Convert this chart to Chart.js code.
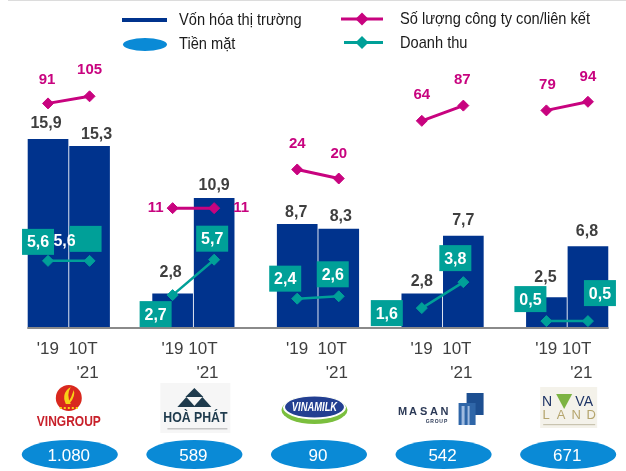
<!DOCTYPE html>
<html lang="vi">
<head>
<meta charset="utf-8">
<title>Vốn hóa thị trường</title>
<script src="https://cdn.jsdelivr.net/npm/chart.js@4.4.0/dist/chart.umd.min.js"></script>
<style>
  html, body { margin: 0; padding: 0; background: #fff; overflow: hidden; }
  #chart { display: block; }
</style>
</head>
<body>
<canvas id="chart" width="626" height="471"></canvas>
<script>
// --- Data ---
const companies = ['Vingroup', 'Hòa Phát', 'Vinamilk', 'Masan', 'Novaland'];
const periodLines = ["'19", "10T", "'21"]; // "'19  10T" / "'21"
const marketCap19 = [15.9, 2.8, 8.7, 2.8, 2.5];
const marketCap21 = [15.3, 10.9, 8.3, 7.7, 6.8];
const subsidiaries19 = [91, 11, 24, 64, 79];
const subsidiaries21 = [105, 11, 20, 87, 94];
const revenue19 = [5.6, 2.7, 2.4, 1.6, 0.5];
const revenue21 = [5.6, 5.7, 2.6, 3.8, 0.5];
const cash = [1080, 589, 90, 542, 671];

// --- Colours / layout ---
const NAVY = '#00338d';
const PINK = '#c8037f';
const TEAL = '#00a098';
const CASH_BLUE = '#0a8ad6';
const GREY_TEXT = '#3f3f3f';
const PAIR_OFFSET = 1 / 6; // bar centre distance from group centre (category units)
const FONT = '"Liberation Sans", Arial, sans-serif';

// label nudges, in px (same order as the points: g1 '19, g1 '21, g2 '19 ...)
const barLabelShift = [[-2, -16], [7, -12], [-2, -21], [0, -13], [-1, -12], [2, -12], [0, -12], [0, -15], [-1, -20], [-1, -15]];
const subsLabelShift = [[-1, -24], [0, -26], [-17, 0], [27, 0], [0, -26], [0, -25], [0, -26], [-1, -26], [1, -26], [0, -25]];
const revenueBoxShift = [[-10, -19], [-4, -22], [-17, 19], [-2, -21], [-12, -20], [-6, -22], [-35, 5], [-8, -24], [-16, -22], [12, -28]];
const revenueTextShift = { 1: [-21, 2] }; // the odd '5,6' that sits off its box

const fmt = v => v.toFixed(1).replace('.', ',');
const fmtThousands = v => String(v).replace(/\B(?=(\d{3})+(?!\d))/g, '.');

// two points per company; optional gap so each company gets its own segment
function pairPoints(first, second, withGaps) {
  const pts = [];
  companies.forEach((c, i) => {
    pts.push({ x: i - PAIR_OFFSET, y: first[i] });
    pts.push({ x: i + PAIR_OFFSET, y: second[i] });
    if (withGaps) pts.push({ x: i + 0.5, y: null });
  });
  return pts;
}

const livePoints = meta => meta.data.filter(p => !p.skip);

function diamond(ctx, x, y, r, color) {
  ctx.beginPath();
  ctx.moveTo(x, y - r);
  ctx.lineTo(x + r, y);
  ctx.lineTo(x, y + r);
  ctx.lineTo(x - r, y);
  ctx.closePath();
  ctx.fillStyle = color;
  ctx.fill();
}

// no narrow font installed -> squeeze the text horizontally
function narrowText(ctx, text, x, y, sx) {
  ctx.save();
  ctx.translate(x, y);
  ctx.scale(sx, 1);
  ctx.fillText(text, 0, 0);
  ctx.restore();
}

// --- value labels on bars and lines ---
const valueLabels = {
  id: 'valueLabels',
  afterDatasetsDraw(chart) {
    const ctx = chart.ctx;
    ctx.save();
    ctx.textAlign = 'center';
    ctx.textBaseline = 'middle';

    // market cap above bars
    ctx.font = 'bold 16px ' + FONT;
    ctx.fillStyle = GREY_TEXT;
    chart.getDatasetMeta(0).data.forEach((bar, k) => {
      const v = chart.data.datasets[0].data[k].y;
      const [dx, dy] = barLabelShift[k];
      ctx.fillText(fmt(v), bar.x + dx, bar.y + dy);
    });

    // subsidiaries count
    ctx.font = 'bold 15px ' + FONT;
    ctx.fillStyle = PINK;
    const subsVals = pairPoints(subsidiaries19, subsidiaries21, false);
    livePoints(chart.getDatasetMeta(1)).forEach((p, k) => {
      const [dx, dy] = subsLabelShift[k];
      ctx.fillText(String(subsVals[k].y), p.x + dx, p.y + dy);
    });

    // revenue in teal boxes
    ctx.font = 'bold 16px ' + FONT;
    const revVals = pairPoints(revenue19, revenue21, false);
    livePoints(chart.getDatasetMeta(2)).forEach((p, k) => {
      const [dx, dy] = revenueBoxShift[k];
      const bx = p.x + dx, by = p.y + dy;
      ctx.fillStyle = TEAL;
      ctx.fillRect(bx - 16, by - 13, 32, 26);
      const [tx, ty] = revenueTextShift[k] || [0, 0];
      ctx.fillStyle = '#fff';
      ctx.fillText(fmt(revVals[k].y), bx + tx, by + ty + 1);
    });
    ctx.restore();
  }
};

// --- legend, baseline, period labels, logos, cash ellipses ---
const decorations = {
  id: 'decorations',
  beforeDatasetsDraw(chart) {
    const { ctx, scales: { x, y } } = chart;
    // baseline only under the bars
    ctx.save();
    ctx.strokeStyle = '#8a8a8a';
    ctx.lineWidth = 2;
    ctx.beginPath();
    ctx.moveTo(x.getPixelForValue(-2 * PAIR_OFFSET), y.getPixelForValue(0) + 1);
    ctx.lineTo(x.getPixelForValue(companies.length - 1 + 2 * PAIR_OFFSET), y.getPixelForValue(0) + 1);
    ctx.stroke();
    ctx.restore();
  },
  afterDraw(chart) {
    const { ctx, scales: { x } } = chart;
    const ds = chart.data.datasets;
    ctx.save();

    // thin top rule
    ctx.fillStyle = '#dcdcdc';
    ctx.fillRect(8, 0, 618, 1);

    // legend
    ctx.textBaseline = 'middle';
    ctx.textAlign = 'left';
    ctx.fillStyle = ds[0].backgroundColor;
    ctx.fillRect(122, 18, 45, 4);
    ctx.fillStyle = CASH_BLUE;
    ctx.beginPath();
    ctx.ellipse(145, 44.5, 22, 6.5, 0, 0, Math.PI * 2);
    ctx.fill();
    ctx.lineWidth = 3;
    ctx.strokeStyle = ds[1].borderColor;
    ctx.beginPath(); ctx.moveTo(341, 19); ctx.lineTo(383, 19); ctx.stroke();
    diamond(ctx, 362, 19, 6.5, ds[1].borderColor);
    ctx.strokeStyle = ds[2].borderColor;
    ctx.beginPath(); ctx.moveTo(344, 42.5); ctx.lineTo(383, 42.5); ctx.stroke();
    diamond(ctx, 362, 42.5, 6.5, ds[2].borderColor);
    ctx.fillStyle = '#1a1a1a';
    ctx.font = '17px ' + FONT;
    narrowText(ctx, ds[0].label, 179, 20, 0.86);
    narrowText(ctx, 'Tiền mặt', 179, 44, 0.86);
    narrowText(ctx, ds[1].label, 400, 19, 0.86);
    narrowText(ctx, ds[2].label, 400, 43, 0.86);

    companies.forEach((name, i) => {
      const cx = x.getPixelForValue(i);

      // period labels: "'19  10T" then "'21" right aligned
      ctx.font = '17px ' + FONT;
      ctx.fillStyle = GREY_TEXT;
      ctx.textAlign = 'left';
      const gap = (i === 1 || i === 4) ? ' ' : '  ';
      const line1 = periodLines[0] + gap + periodLines[1];
      ctx.fillText(line1, cx - 32, 349);
      const right = cx - 32 + ctx.measureText(line1).width;
      ctx.textAlign = 'right';
      ctx.fillText(periodLines[2], right + 1, 373);

      drawLogo(ctx, i, cx);

      // cash ellipse
      ctx.fillStyle = CASH_BLUE;
      ctx.beginPath();
      ctx.ellipse(cx + 1, 454.5, 48, 14.5, 0, 0, Math.PI * 2);
      ctx.fill();
      ctx.fillStyle = '#fff';
      ctx.textAlign = 'center';
      ctx.font = '17px ' + FONT;
      ctx.fillText(fmtThousands(cash[i]), cx, 456);
    });
    ctx.restore();
  }
};

// rough stand-ins for the company logos
function drawLogo(ctx, i, cx) {
  ctx.save();
  ctx.textAlign = 'center';
  ctx.textBaseline = 'middle';
  if (i === 0) {
    ctx.fillStyle = '#d9281e';
    ctx.beginPath(); ctx.arc(cx, 398, 13, 0, Math.PI * 2); ctx.fill();
    ctx.fillStyle = '#f7d117';
    ctx.beginPath();
    ctx.moveTo(cx - 3, 404);
    ctx.quadraticCurveTo(cx - 8, 393, cx + 2, 387);
    ctx.quadraticCurveTo(cx - 3, 395, cx + 2, 404);
    ctx.closePath(); ctx.fill();
    ctx.beginPath();
    ctx.moveTo(cx + 1, 403);
    ctx.quadraticCurveTo(cx + 7, 396, cx + 5, 390);
    ctx.quadraticCurveTo(cx + 3, 397, cx - 1, 403);
    ctx.closePath(); ctx.fill();
    for (let s = -2; s <= 2; s++) ctx.fillRect(cx + s * 4 - 1, 407, 2, 2);
    ctx.fillStyle = '#c8202a';
    ctx.font = 'bold 15px ' + FONT;
    narrowText(ctx, 'VINGROUP', cx, 422, 0.8);
  } else if (i === 1) {
    ctx.fillStyle = '#f6f6f6';
    ctx.fillRect(cx - 33, 383, 70, 50);
    ctx.fillStyle = '#1f3b4d';
    const tri = (ax, ay, w, h) => {
      ctx.beginPath(); ctx.moveTo(ax, ay); ctx.lineTo(ax + w / 2, ay + h); ctx.lineTo(ax - w / 2, ay + h); ctx.closePath(); ctx.fill();
    };
    tri(cx + 1, 388, 18, 9);
    tri(cx - 7, 397, 18, 10);
    tri(cx + 9, 397, 18, 10);
    ctx.font = 'bold 15px ' + FONT;
    narrowText(ctx, 'HOÀ PHÁT', cx + 2, 418, 0.82);
    ctx.fillStyle = '#c4c4c4';
    ctx.fillRect(cx - 26, 428, 60, 1.5);
  } else if (i === 2) {
    const lx = cx - 3.5;
    ctx.fillStyle = '#7bbf3e';
    ctx.beginPath(); ctx.ellipse(lx, 410, 33, 14, 0, 0, Math.PI * 2); ctx.fill();
    ctx.fillStyle = '#fff';
    ctx.beginPath(); ctx.ellipse(lx, 407.5, 31.5, 12, 0, 0, Math.PI * 2); ctx.fill();
    ctx.fillStyle = '#233f91';
    ctx.beginPath(); ctx.ellipse(lx, 407, 29.5, 10.5, 0, 0, Math.PI * 2); ctx.fill();
    ctx.fillStyle = '#fff';
    ctx.font = 'italic bold 12px ' + FONT;
    narrowText(ctx, 'VINAMILK', lx, 408, 0.78);
  } else if (i === 3) {
    ctx.fillStyle = '#2c3a57';
    ctx.font = 'bold 11px ' + FONT;
    'MASAN'.split('').forEach((ch, k) => ctx.fillText(ch, cx - 40 + k * 10.5, 412));
    ctx.font = 'bold 5px ' + FONT;
    'GROUP'.split('').forEach((ch, k) => ctx.fillText(ch, cx - 15 + k * 4.5, 422));
    ctx.fillStyle = '#1d4f91';
    ctx.fillRect(cx + 24, 393, 17, 22);
    ctx.fillStyle = '#2f66a8';
    ctx.fillRect(cx + 16, 403, 17, 22);
    ctx.fillStyle = '#9fbbe0';
    ctx.fillRect(cx + 19, 406, 3, 19);
    ctx.fillRect(cx + 25, 406, 2, 19);
  } else {
    ctx.fillStyle = '#f4f2ea';
    ctx.fillRect(cx - 27, 387, 57, 41);
    ctx.fillStyle = '#1f3566';
    ctx.font = '14px ' + FONT;
    ctx.fillText('N', cx - 20, 402);
    ctx.fillText('VA', cx + 17, 402);
    ctx.fillStyle = '#7cb342';
    ctx.beginPath();
    ctx.moveTo(cx - 11, 394); ctx.lineTo(cx + 5, 394); ctx.lineTo(cx - 3, 409); ctx.closePath(); ctx.fill();
    ctx.fillStyle = '#b5a56e';
    ctx.font = '13px ' + FONT;
    'LAND'.split('').forEach((ch, k) => ctx.fillText(ch, cx - 21 + k * 15, 415));
    ctx.fillStyle = '#c9c4b0';
    ctx.fillRect(cx - 24, 424, 52, 1.2);
  }
  ctx.restore();
}

const chart = new Chart(document.getElementById('chart'), {
  type: 'bar',
  data: {
    datasets: [
      {
        type: 'bar',
        label: 'Vốn hóa thị trường',
        data: pairPoints(marketCap19, marketCap21, false),
        backgroundColor: NAVY,
        barThickness: 40,
        yAxisID: 'y',
        order: 2
      },
      {
        type: 'line',
        label: 'Số lượng công ty con/liên kết',
        data: pairPoints(subsidiaries19, subsidiaries21, true),
        borderColor: PINK,
        backgroundColor: PINK,
        borderWidth: 3,
        pointStyle: 'rectRot',
        pointRadius: 5.5,
        pointBorderWidth: 1,
        spanGaps: false,
        yAxisID: 'yLog',
        order: 1
      },
      {
        type: 'line',
        label: 'Doanh thu',
        data: pairPoints(revenue19, revenue21, true),
        borderColor: TEAL,
        backgroundColor: TEAL,
        borderWidth: 2.5,
        pointStyle: 'rectRot',
        pointRadius: 5.5,
        pointBorderWidth: 1,
        spanGaps: false,
        yAxisID: 'y',
        order: 0
      }
    ]
  },
  options: {
    responsive: false,
    animation: false,
    devicePixelRatio: 1,
    layout: { padding: { left: 6, right: 0, top: 30, bottom: 144 } },
    plugins: { legend: { display: false }, tooltip: { enabled: false } },
    scales: {
      x: { type: 'linear', min: -0.5, max: 4.42, offset: false, display: false },
      y: { type: 'linear', min: 0, max: 25.15, display: false },
      yLog: { type: 'logarithmic', min: 1, max: 400, display: false }
    }
  },
  plugins: [decorations, valueLabels]
});
</script>
</body>
</html>
